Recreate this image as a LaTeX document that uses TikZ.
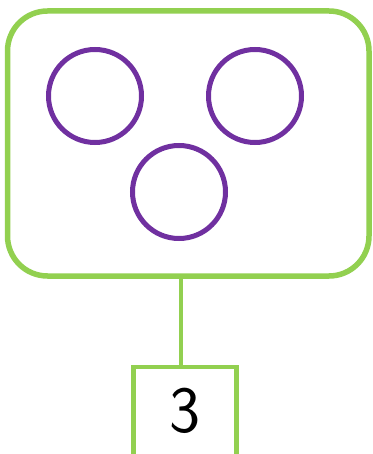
\documentclass[tikz,border=0pt]{standalone}
\definecolor{leaf}{RGB}{146,208,80}
\definecolor{grape}{RGB}{112,48,160}
\begin{document}
\begin{tikzpicture}[x=1pt,y=-1pt,
  outer/.style={draw=leaf,line width=5.5pt,rounded corners=40pt},
  dot/.style={draw=grape,line width=5pt,circle,minimum size=93pt,inner sep=0pt},
  link/.style={draw=leaf,line width=4pt},
  numbox/.style={draw=leaf,line width=4.5pt,minimum width=103pt,minimum height=96pt,anchor=north,inner sep=0pt}]
\useasboundingbox (0,0) rectangle (372,454);
\clip (0,0) rectangle (372,454);
\draw[outer] (7.5,11) rectangle (369,276);
\node[dot] (c1) at (95,96) {};
\node[dot] (c2) at (255,96) {};
\node[dot] (c3) at (179,192) {};
\coordinate (top) at (181,276);
\node[numbox] (box) at (184.75,364.5) {};
\node[font=\sffamily\fontsize{66}{66}\selectfont] (n) at (185,411) {3};
\draw[link] (top) -- (box.north -| top);
\end{tikzpicture}
\end{document}
